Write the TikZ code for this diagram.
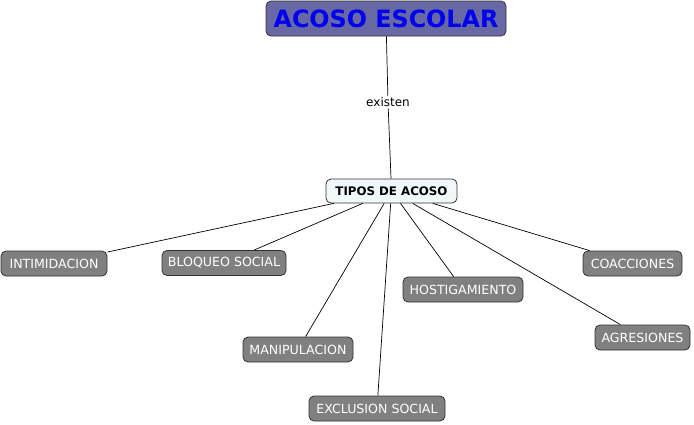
\documentclass[tikz,border=0pt]{standalone}
\usepackage{fontspec}
\setmainfont{DejaVu Sans}
\definecolor{titlefill}{HTML}{6868A4}
\definecolor{titletext}{HTML}{0000F0}
\definecolor{midfill}{HTML}{F0F8FA}
\definecolor{leaffill}{HTML}{808080}
\definecolor{edgecol}{HTML}{333333}
\begin{document}
\begin{tikzpicture}[x=1pt,y=-1pt,
  box/.style={draw=edgecol,rounded corners=5pt,line width=0.8pt,inner sep=0pt,anchor=center},
  title/.style={box,fill=titlefill,text=titletext,font=\fontsize{23.8}{27}\selectfont\bfseries,minimum width=240pt,minimum height=35pt},
  mid/.style={box,fill=midfill,text=black,font=\fontsize{11.8}{13}\selectfont\bfseries,minimum width=131pt,minimum height=24pt},
  leaf/.style={box,fill=leaffill,text=white,font=\fontsize{12.6}{14}\selectfont,minimum height=25pt},
  link/.style={draw=black,line width=0.7pt},
  lbl/.style={fill=white,inner sep=1.5pt,font=\fontsize{12}{14}\selectfont}]
\useasboundingbox (0,0) rectangle (694,424);
\node[title] (acoso) at (386,18.5) {ACOSO ESCOLAR};
\node[mid] (tipos) at (391.5,191) {TIPOS DE ACOSO};
\node[leaf,minimum width=106pt] (intim) at (54,263.5) {INTIMIDACION};
\node[leaf,minimum width=124pt] (bloq) at (224,263) {BLOQUEO SOCIAL};
\node[leaf,minimum width=110pt] (manip) at (298,349.5) {MANIPULACION};
\node[leaf,minimum width=136pt] (excl) at (377,408.5) {EXCLUSION SOCIAL};
\node[leaf,minimum width=120pt] (host) at (463,289.5) {HOSTIGAMIENTO};
\node[leaf,minimum width=99pt] (coac) at (632.5,263.5) {COACCIONES};
\node[leaf,minimum width=95pt] (agre) at (642.5,337.5) {AGRESIONES};
\node[lbl] (existen) at (388,102) {existen};
\draw[link] (acoso) -- (existen);
\draw[link] (existen) -- (tipos);
\draw[link] (tipos) -- (intim);
\draw[link] (tipos) -- (bloq);
\draw[link] (tipos) -- (manip);
\draw[link] (tipos) -- (excl);
\draw[link] (tipos) -- (host);
\draw[link] (tipos) -- (coac);
\draw[link] (tipos) -- (agre);
\end{tikzpicture}
\end{document}
